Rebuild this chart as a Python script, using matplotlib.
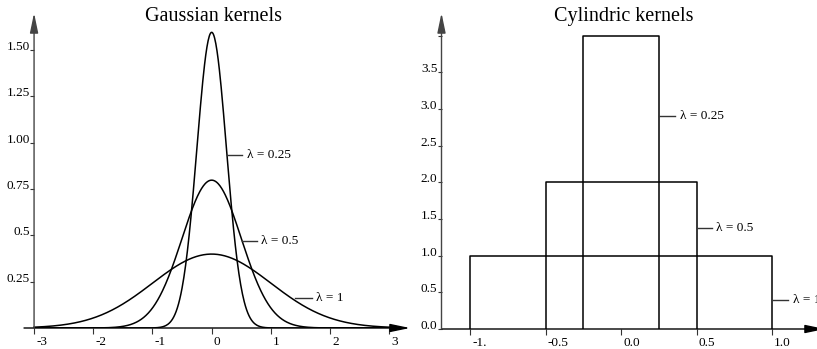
import matplotlib

matplotlib.use('agg')

import matplotlib.pyplot as plt
import matplotlib.transforms as mtransforms
import numpy as np

plt.rcParams['font.family'] = ['Liberation Serif', 'DejaVu Serif']

# Gaussian kernels: bandwidths
gauss_lambdas = [0.25, 0.5, 1.0]
gauss_labels = ["\u03bb = 0.25", "\u03bb = 0.5", "\u03bb = 1"]
gauss_xticks = [-3, -2, -1, 0, 1, 2, 3]
gauss_xticklabels = ["-3", "-2", "-1", "0", "1", "2", "3"]
gauss_yticks = [0.25, 0.5, 0.75, 1.0, 1.25, 1.5]
gauss_yticklabels = ["0.25", "0.5", "0.75", "1.00", "1.25", "1.50"]

# Cylindric kernels: half widths and heights
cyl_halfwidths = [0.25, 0.5, 1.0]
cyl_heights = [4.0, 2.0, 1.0]
cyl_labels = ["\u03bb = 0.25", "\u03bb = 0.5", "\u03bb = 1"]
cyl_xticks = [-1.0, -0.5, 0.0, 0.5, 1.0]
cyl_xticklabels = ["-1.", "-0.5", "0.0", "0.5", "1.0"]
cyl_yticks = [0.0, 0.5, 1.0, 1.5, 2.0, 2.5, 3.0, 3.5, 4.0]
cyl_yticklabels = ["0.0", "0.5", "1.0", "1.5", "2.0", "2.5", "3.0", "3.5", ""]

W, H = 817, 349
fig = plt.figure(figsize=(W / 100, H / 100), dpi=100)


def make_axes(x0, x1, ytop, ybot):
    return fig.add_axes([x0 / W, 1 - ybot / H, (x1 - x0) / W, (ybot - ytop) / H])


def style_axes(ax, xlim, ylim, yaxis_x):
    ax.set_xlim(*xlim)
    ax.set_ylim(*ylim)
    ax.patch.set_visible(False)
    for s in ax.spines.values():
        s.set_visible(False)
    ax.spines['left'].set_position(('data', yaxis_x))
    ax.tick_params(axis='x', direction='out', length=4, width=0.8, pad=1.5,
                   labelsize=9.5, color='#333333')
    ax.tick_params(axis='y', direction='out', length=3, width=0.8, pad=0,
                   labelsize=9.5, color='#333333')
    arrow = dict(arrowstyle='-|>,head_length=1.2,head_width=0.25', mutation_scale=10,
                 lw=1, color='black', shrinkA=0, shrinkB=0)
    ax.annotate('', xy=(xlim[1], 0), xytext=(xlim[0], 0), arrowprops=arrow,
                annotation_clip=False)
    ax.annotate('', xy=(yaxis_x, ylim[1]), xytext=(yaxis_x, 0),
                arrowprops=dict(arrow, color='#444444'), annotation_clip=False)


def place_ticklabels(ax):
    # x labels sit just right of their tick, y labels sit on their tick
    off = mtransforms.ScaledTranslation(2 / 100, 0, fig.dpi_scale_trans)
    for lab in ax.get_xticklabels():
        lab.set_horizontalalignment('left')
        lab.set_transform(lab.get_transform() + off)
    for lab in ax.get_yticklabels():
        lab.set_verticalalignment('baseline')


# ---- left: Gaussian kernels
ax1 = make_axes(24, 410, 13, 328)
style_axes(ax1, (-3.17, 3.35), (0, 1.70), -3)
x = np.linspace(-3, 3, 601)
for lam in gauss_lambdas:
    y = np.exp(-0.5 * (x / lam) ** 2) / (lam * np.sqrt(2 * np.pi))
    ax1.plot(x, y, color='black', lw=1.1)
ax1.set_xticks(gauss_xticks)
ax1.set_xticklabels(gauss_xticklabels)
ax1.set_yticks(gauss_yticks)
ax1.set_yticklabels(gauss_yticklabels)
place_ticklabels(ax1)

gauss_label_pos = [(0.26, 0.51, 0.935), (0.52, 0.76, 0.47), (1.40, 1.69, 0.162)]
for (x0, x1, yy), txt in zip(gauss_label_pos, gauss_labels):
    ax1.plot([x0, x1], [yy, yy], color='#333333', lw=1)
    ax1.text(x1 + 0.08, yy, txt, fontsize=9.5, va='center', ha='left')

fig.text(214 / W, 1 - 21 / H, "Gaussian kernels", ha='center', va='baseline', fontsize=14.5)

# ---- right: Cylindric kernels
ax2 = make_axes(441.5, 825, 13, 329)
style_axes(ax2, (-1.189, 1.351), (0, 4.31), -1.189)
for hw, h in zip(cyl_halfwidths, cyl_heights):
    ax2.plot([-hw, -hw, hw, hw], [0, h, h, 0], color='black', lw=1.1)
ax2.set_xticks(cyl_xticks)
ax2.set_xticklabels(cyl_xticklabels)
ax2.set_yticks(cyl_yticks)
ax2.set_yticklabels(cyl_yticklabels)
place_ticklabels(ax2)

cyl_label_pos = [(0.252, 0.358, 2.90), (0.51, 0.60, 1.38), (1.007, 1.106, 0.40)]
for (x0, x1, yy), txt in zip(cyl_label_pos, cyl_labels):
    ax2.plot([x0, x1], [yy, yy], color='#333333', lw=1)
    ax2.text(x1 + 0.03, yy, txt, fontsize=9.5, va='center', ha='left')

fig.text(624 / W, 1 - 21 / H, "Cylindric kernels", ha='center', va='baseline', fontsize=14.5)

fig.savefig("out.png", dpi=100)
